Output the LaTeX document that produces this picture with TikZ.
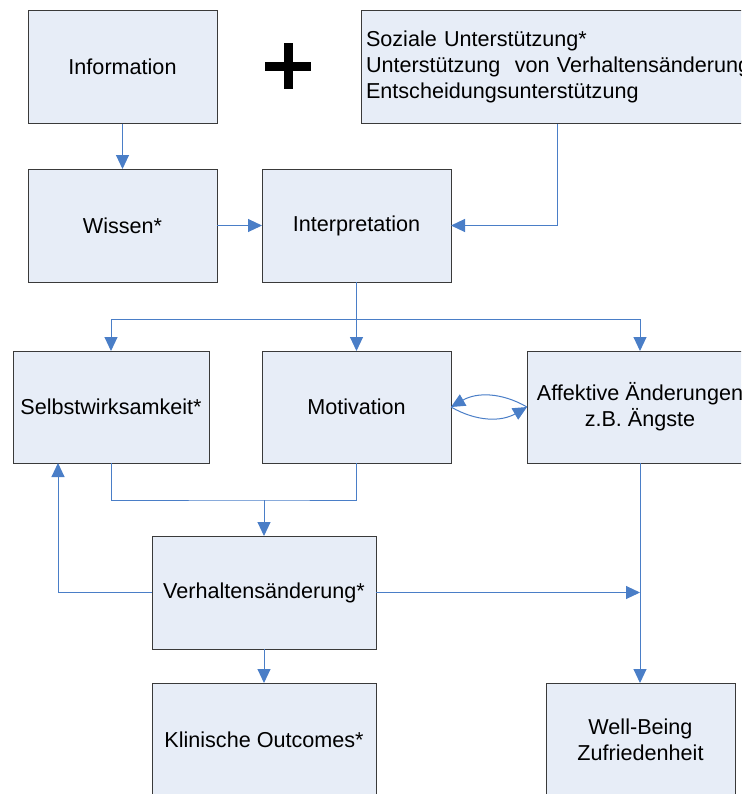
\documentclass[tikz,border=0pt]{standalone}
\usepackage{fontspec}
\setmainfont{Liberation Sans}
\usetikzlibrary{arrows.meta,calc}
\definecolor{boxfill}{HTML}{E7EDF7}
\definecolor{boxline}{HTML}{3A3A3A}
\definecolor{conn}{HTML}{4A7EC7}
\begin{document}
\begin{tikzpicture}[x=0.5pt,y=-0.5pt,
  box/.style={draw=boxline,fill=boxfill,line width=0.5pt,inner sep=0pt,outer sep=0pt,
    minimum height=56.5pt,align=center,font=\fontsize{10.8}{13}\selectfont},
  line/.style={draw=conn,line width=0.5pt},
  arr/.style={line,-{Triangle[length=7pt,width=6.5pt]}}]
\useasboundingbox (0,0) rectangle (741,794);
\clip (0,0) rectangle (741,794);
% boxes
\node[box,minimum width=94.5pt] (info) at (122.5,67) {Information};
\node[box,minimum width=204.5pt,text width=199.5pt,align=left,inner xsep=2.5pt] (soz) at (565.5,67)
  {Soziale Unterstützung*\\Unterstützung\ \ von Verhaltensänderung\\Entscheidungsunterstützung};
\node[box,minimum width=94.5pt] (wissen) at (122.5,225.5) {Wissen*};
\node[box,minimum width=94.5pt] (interp) at (356.5,225.5) {Interpretation};
\node[box,minimum width=98pt,minimum height=56pt] (selbst) at (111,407) {Selbstwirksamkeit*};
\node[box,minimum width=94.5pt,minimum height=56pt] (motiv) at (356.5,407) {Motivation};
\node[box,minimum width=113pt,minimum height=56pt] (affekt) at (640,407) {Affektive Änderungen\\z.B. Ängste};
\node[box,minimum width=112pt] (verh) at (264,592.5) {Verhaltensänderung*};
\node[box,minimum width=112pt] (klin) at (264,739.5) {Klinische Outcomes*};
\node[box,minimum width=94.5pt] (well) at (640.5,739.5) {Well-Being\\Zufriedenheit};
% plus sign
\draw[line width=4.5pt,black] (265,66) -- (311,66) (288,43) -- (288,89);
% coordinates
\coordinate (sozx) at (557,124);
\coordinate (br) at (356.5,319);
\coordinate (j2) at (264,500);
% connectors
\draw[arr] (info.south) -- (wissen.north);
\draw[arr] (wissen.east) -- (interp.west);
\draw[arr] (sozx) |- (interp.east);
\draw[line] (interp.south) -- (br);
\draw[arr] (br) -| (selbst.north);
\draw[arr] (br) -- (motiv.north);
\draw[arr] (br) -| (affekt.north);
\draw[arr] (affekt.west) to[bend right=30] (motiv.east);
\draw[arr] (motiv.east) to[bend right=30] (affekt.west);
\draw[line] (selbst.south) |- (j2) -| (motiv.south);
\draw[arr] (j2) -- (verh.north);
\draw[arr] (verh.west) -| ([xshift=-26.5pt]selbst.south);
\draw[arr] (verh.east) -- (verh.east -| affekt.south);
\draw[arr] (affekt.south) -- (affekt.south |- well.north);
\draw[arr] (verh.south) -- (klin.north);
\end{tikzpicture}
\end{document}
